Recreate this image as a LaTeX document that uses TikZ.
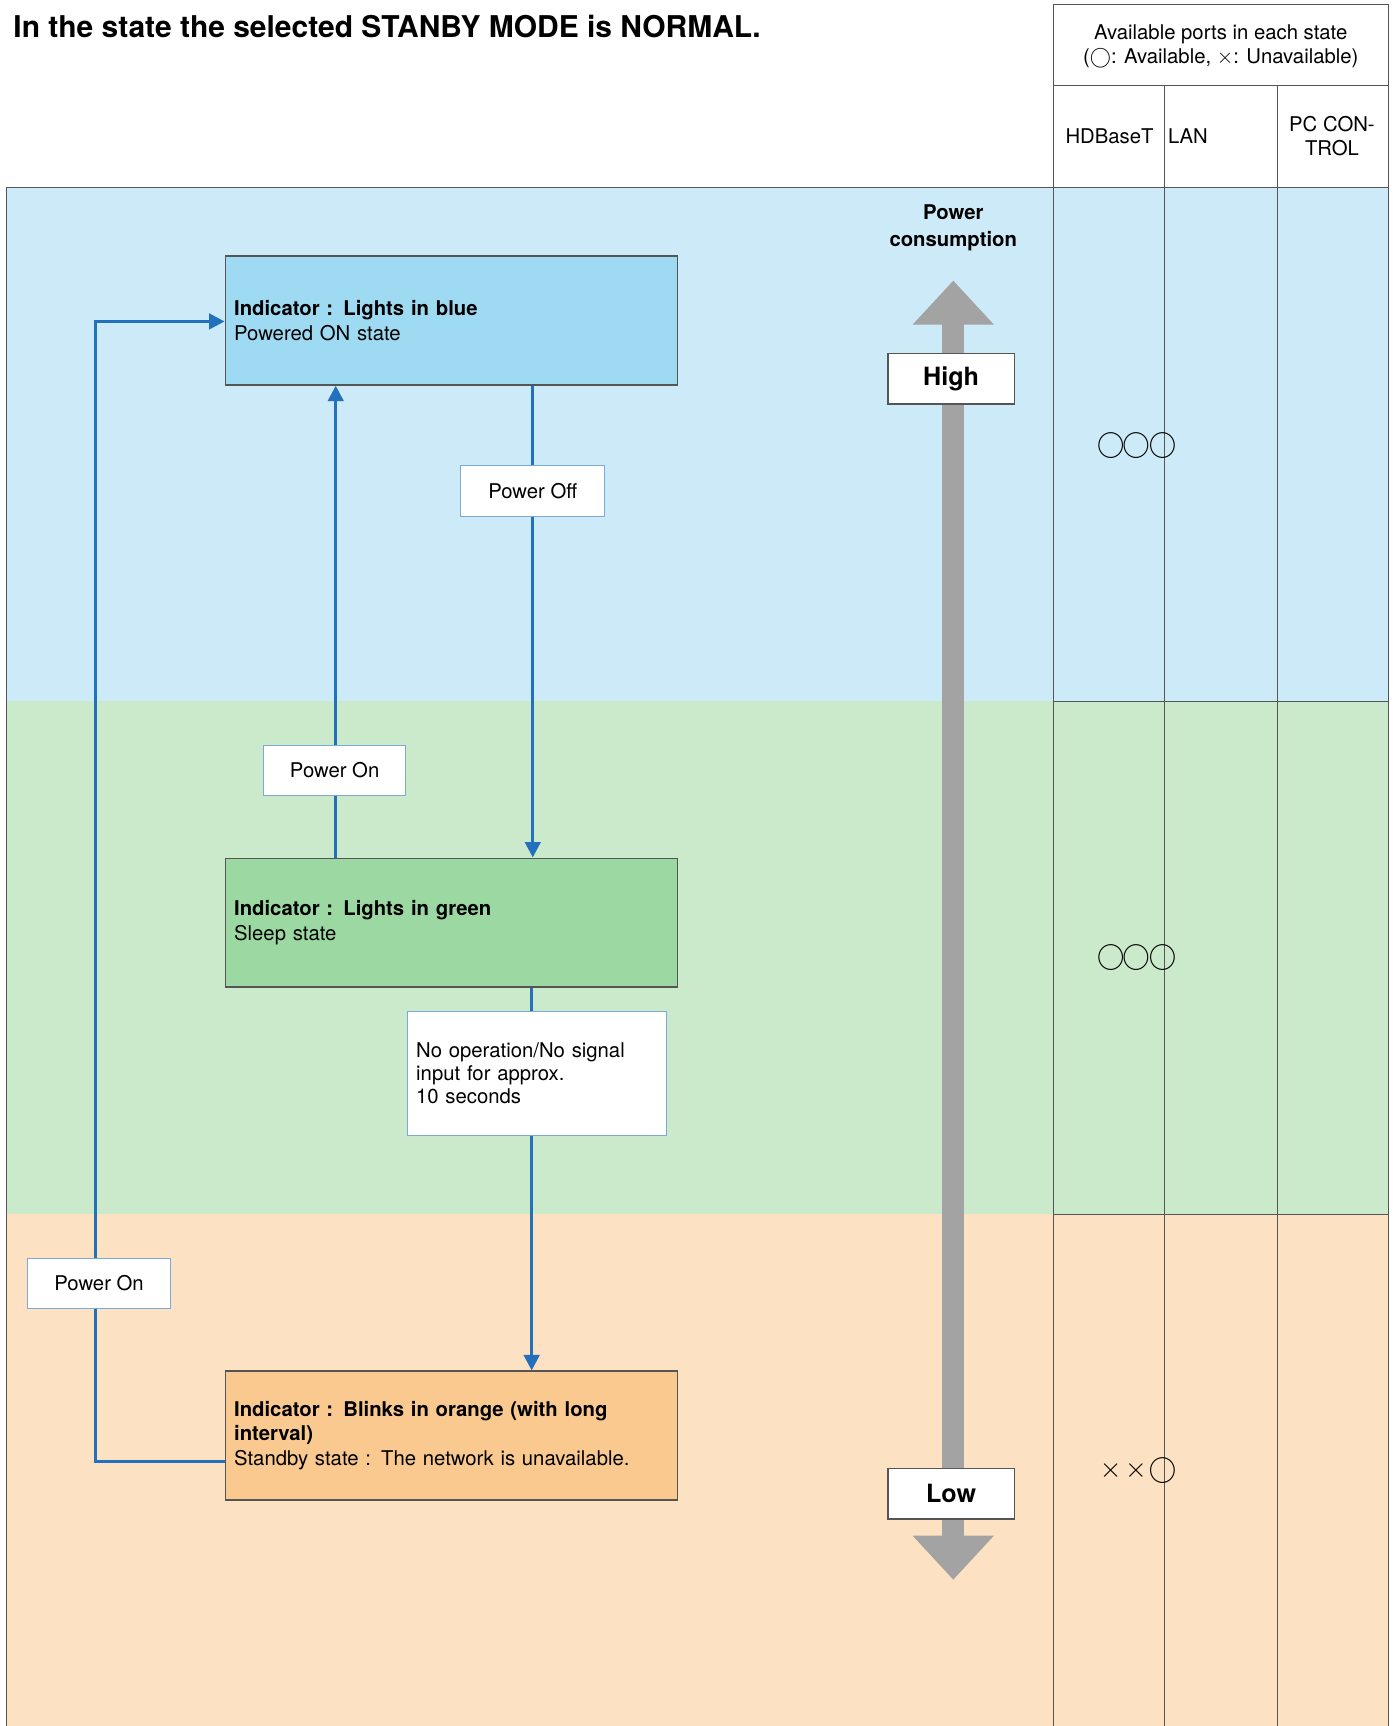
\documentclass[tikz,border=0pt]{standalone}
\usepackage{fontspec}
\setmainfont{TeX Gyre Heros}
\usetikzlibrary{arrows.meta}
\usetikzlibrary{positioning}
\definecolor{bandblue}{HTML}{CDEAF8}
\definecolor{bandgreen}{HTML}{CBEACB}
\definecolor{bandorange}{HTML}{FCE1C2}
\definecolor{boxblue}{HTML}{9FDAF3}
\definecolor{boxgreen}{HTML}{9CD9A2}
\definecolor{boxorange}{HTML}{F9C98F}
\definecolor{flow}{HTML}{2371BC}
\definecolor{powergray}{HTML}{A3A3A3}
\definecolor{edge}{HTML}{555555}
\tikzset{
  state/.style={draw=edge, thick, minimum width=8.22cm, minimum height=2.34cm, anchor=north west,
    align=left, text width=7.9cm, inner sep=0.16cm},
  tag/.style={draw=flow!60, thin, fill=white, minimum height=0.92cm, font=\fontsize{10.5}{12}\selectfont},
  level/.style={draw=edge, thick, fill=white, minimum width=2.3cm, minimum height=0.92cm,
    font=\fontsize{13}{15}\selectfont\bfseries},
  flowline/.style={flow, line width=1.6pt},
  flowarrow/.style={flowline, -{Triangle[length=8pt,width=8pt]}},
  grid/.style={draw=edge, thin},
  portmark/.style={font=\fontsize{14}{16}\selectfont, inner sep=0pt}
}
\begin{document}
\begin{tikzpicture}[x=0.02cm, y=-0.02cm, font=\fontsize{10.5}{12.5}\selectfont]
  \useasboundingbox (0,0) rectangle (1265,1568);
  % bands
  \fill[bandblue] (6,170) rectangle (1261,637);
  \fill[bandgreen] (6,637) rectangle (1261,1103);
  \fill[bandorange] (6,1103) rectangle (1261,1568);
  \draw[grid] (6,1568) -- (6,170) -- (957,170);
  \draw[grid] (957,637) -- (1261,637) (957,1103) -- (1261,1103);
  % title
  \node[anchor=west, font=\fontsize{15.5}{18}\selectfont\bfseries] (title) at (6,24)
    {In the state the selected STANBY MODE is NORMAL.};
  % port table
  \draw[grid] (957,1568) -- (957,4) -- (1261,4) -- (1261,1568);
  \draw[grid] (957,78) -- (1261,78);
  \draw[grid] (957,170) -- (1261,170);
  \draw[grid] (1058,78) -- (1058,1568);
  \draw[grid] (1160,78) -- (1160,1568);
  \node[align=center] (ports) at (1109,42)
    {Available ports in each state\\($\bigcirc$: Available, $\times$: Unavailable)};
  \node (hdb) at (1008,124) {HDBaseT};
  \node[anchor=west, inner sep=1pt] (lan) at (1059,124) {LAN};
  \node[align=center] (pcc) at (1210,124) {PC CON-\\TROL};
  \foreach \y/\a/\b in {405/\bigcirc/\bigcirc, 870/\bigcirc/\bigcirc, 1336/\times/\times} {
    \node[portmark] at (1009,\y) {$\a$};
    \node[portmark] at (1032,\y) {$\b$};
    \node[portmark] at (1056,\y) {$\bigcirc$};
  }
  % power consumption scale
  \node[align=center, font=\fontsize{10.5}{13.5}\selectfont\bfseries] (pc) at (866,207) {Power\\consumption};
  \fill[powergray] (856,290) rectangle (876,1395);
  \fill[powergray] (866,255) -- (903,295) -- (829,295) -- cycle;
  \fill[powergray] (866,1435) -- (903,1395) -- (829,1395) -- cycle;
  \node[level] (high) at (864,344) {High};
  \node[level] (low) at (864,1357) {Low};
  % states
  \node[state, fill=boxblue] (on) at (204,232)
    {\textbf{Indicator : Lights in blue}\\Powered ON state\\[7mm]};
  \node[state, fill=boxgreen] (sleep) at (204,779)
    {\textbf{Indicator : Lights in green}\\Sleep state\\[7mm]};
  \node[state, fill=boxorange] (standby) at (204,1245)
    {\textbf{Indicator : Blinks in orange (with long}\\\textbf{interval)}\\Standby state : The network is unavailable.\\[1.5mm]};
  % transitions
  \draw[flowarrow] (on.south -| 484,0) -- (sleep.north -| 484,0);
  \draw[flowarrow] (sleep.north -| 305,0) -- (on.south -| 305,0);
  \draw[flowarrow] (sleep.south -| 483,0) -- (standby.north -| 483,0);
  \coordinate (lowcorner) at (87,1328);
  \coordinate (upcorner) at (87,292);
  \draw[flowarrow] (standby.west |- lowcorner) -- (lowcorner) -- (upcorner) -- (on.west |- upcorner);
  \node[tag, minimum width=2.62cm] (off) at (484,446) {Power Off};
  \node[tag, minimum width=2.58cm] (on1) at (304,700) {Power On};
  \node[tag, minimum width=2.6cm] (on2) at (90,1166) {Power On};
  \node[tag, minimum width=4.7cm, minimum height=2.26cm, align=left, text width=4.4cm] (idle) at (488,975)
    {No operation/No signal\\input for approx.\\10 seconds};
\end{tikzpicture}
\end{document}
